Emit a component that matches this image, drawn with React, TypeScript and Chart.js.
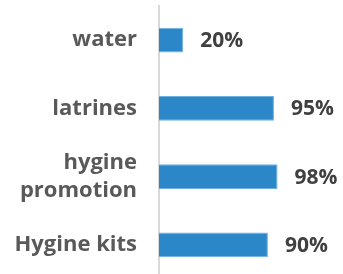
import React, { useEffect, useRef } from "react";
import { Chart, registerables } from "chart.js";

Chart.register(...registerables);

const categories: (string | string[])[] = ["water", "latrines", ["hygine", "promotion"], "Hygine kits"];
const values: number[] = [0.2, 0.95, 0.98, 0.9];
const valueLabels: string[] = ["20%", "95%", "98%", "90%"];

const valueLabelPlugin = {
  id: "valueLabels",
  afterDatasetsDraw(chart: any) {
    const ctx = chart.ctx;
    const meta = chart.getDatasetMeta(0);
    ctx.save();
    ctx.font = "bold 21px 'Open Sans'";
    ctx.fillStyle = "#404040";
    ctx.textAlign = "left";
    ctx.textBaseline = "middle";
    meta.data.forEach((bar: any, i: number) => {
      ctx.fillText(valueLabels[i], bar.x + 17, bar.y + 1);
    });
    ctx.restore();
  },
};

export default function App() {
  const ref = useRef<HTMLCanvasElement | null>(null);
  useEffect(() => {
    document.body.style.margin = "0";
    const chart = new Chart(ref.current as HTMLCanvasElement, {
      type: "bar",
      data: {
        labels: categories,
        datasets: [
          {
            data: values,
            backgroundColor: "#2B87C8",
            borderColor: "#6FB0E0",
            borderWidth: 1,
            barPercentage: 0.72,
            categoryPercentage: 0.5,
          },
        ],
      },
      plugins: [valueLabelPlugin],
      options: {
        indexAxis: "y",
        animation: false,
        responsive: false,
        maintainAspectRatio: false,
        layout: { padding: { top: 6, bottom: 1, right: 63, left: 0 } },
        plugins: { legend: { display: false }, tooltip: { enabled: false } },
        scales: {
          x: { display: false, min: 0, max: 1 },
          y: {
            afterFit(scale: any) {
              scale.width = 159;
              scale.paddingTop = 0;
              scale.paddingBottom = 0;
            },
            grid: { display: false, drawTicks: false },
            border: { display: true, color: "#D9D9D9", width: 2 },
            ticks: {
              padding: 22,
              color: "#595959",
              font: { family: "'Open Sans'", size: 22, weight: "bold", lineHeight: 1.27 },
            },
          },
        },
      },
    });
    return () => chart.destroy();
  }, []);
  return (
    <div style={{ position: "relative", width: 343, height: 274, overflow: "hidden" }}>
      <canvas ref={ref} width={343} height={280} style={{ display: "block" }} />
    </div>
  );
}
